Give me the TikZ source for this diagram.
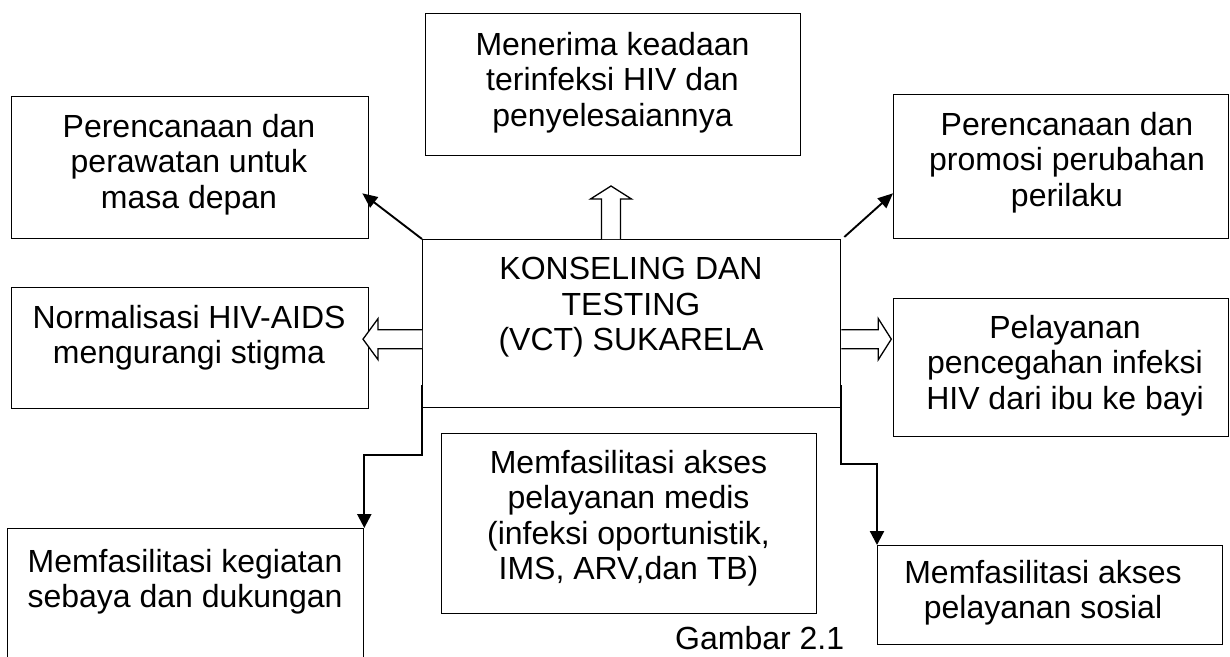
\documentclass[tikz,border=0pt]{standalone}
\usepackage{fontspec}
\setmainfont{Liberation Sans}
\usetikzlibrary{arrows.meta,calc}
\tikzset{
  box/.style={draw, line width=1.3pt, inner sep=0pt, anchor=north west},
  txt/.style={align=center, inner sep=0pt, anchor=north, font=\fontsize{32}{35.5}\selectfont},
  conn/.style={line width=1.9pt, -{Triangle[length=15pt,width=13pt]}},
  elbow/.style={line width=2.3pt, -{Triangle[length=14pt,width=14pt]}},
  hollow/.style={draw, line width=1.3pt, fill=white, line join=miter}
}
\begin{document}
\begin{tikzpicture}[x=1pt,y=-1pt]
\useasboundingbox (0,0) rectangle (1230,656);
\clip (0,0) rectangle (1230,656);
\fill[white] (0,0) rectangle (1230,656);

% boxes
\node[box, minimum width=375pt, minimum height=142pt] (top) at (425,13) {};
\node[box, minimum width=357pt, minimum height=142pt] (tl) at (11,96) {};
\node[box, minimum width=357pt, minimum height=121pt] (lm) at (11,287) {};
\node[box, minimum width=335pt, minimum height=144pt] (tr) at (893,94) {};
\node[box, minimum width=335pt, minimum height=138pt] (rm) at (893,298) {};
\node[box, minimum width=418pt, minimum height=168pt] (c) at (422,239) {};
\node[box, minimum width=375pt, minimum height=180pt] (bc) at (441,433) {};
\node[box, minimum width=356pt, minimum height=140pt] (bl) at (7,528) {};
\node[box, minimum width=345pt, minimum height=99pt] (br) at (877,545) {};

% texts
\node[txt] (ttop) at (612.5,32) {Menerima keadaan\\terinfeksi HIV dan\\penyelesaiannya};
\node[txt] (ttl) at (189,114) {Perencanaan dan\\perawatan untuk\\masa depan};
\node[txt] (tlm) at (189,305) {Normalisasi HIV-AIDS\\mengurangi stigma};
\node[txt] (ttr) at (1067,112) {Perencanaan dan\\promosi perubahan\\perilaku};
\node[txt] (trm) at (1065,315) {Pelayanan\\pencegahan infeksi\\HIV dari ibu ke bayi};
\node[txt] (tc) at (631,257) {KONSELING DAN\\TESTING\\ (VCT) SUKARELA};
\node[txt] (tbc) at (628.5,450) {Memfasilitasi akses\\pelayanan medis\\(infeksi oportunistik,\\IMS, ARV,dan TB)};
\node[txt] (tbl) at (185,549) {Memfasilitasi kegiatan\\sebaya dan dukungan};
\node[txt] (tbr) at (1043,560) {Memfasilitasi akses\\pelayanan sosial};
\node[txt, anchor=north west] (gambar) at (675,626) {Gambar 2.1};

% diagonal arrows
\draw[conn] (c.north west) -- ($(tl.south east)+(-7,-46)$);
\draw[conn] ($(c.north east)+(3,-2)$) -- ($(tr.south west)+(0,-46)$);

% hollow arrows
\coordinate (upb) at ($(c.north west)+(189,0)$);
\coordinate (lfb) at ($(c.west)+(0,15.5)$);
\coordinate (rtb) at ($(c.east)+(0,15.5)$);
\draw[hollow, shift={(upb)}] (-9.5,0) -- (-9.5,-40) -- (-20.5,-40) -- (0,-53) -- (20.5,-40) -- (9.5,-40) -- (9.5,0);
\draw[hollow, shift={(lfb)}] (0,-9.5) -- (-44,-9.5) -- (-44,-20.5) -- (-59,0) -- (-44,20.5) -- (-44,9.5) -- (0,9.5);
\draw[hollow, shift={(rtb)}] (0,-9.5) -- (37,-9.5) -- (37,-20.5) -- (50,0) -- (37,20.5) -- (37,9.5) -- (0,9.5);

% elbow connectors
\draw[elbow] ($(c.south west)+(0,-23)$) -- ($(c.south west)+(0,47)$) -| (bl.north east);
\draw[elbow] ($(c.south east)+(0,-23)$) -- ($(c.south east)+(0,56)$) -| (br.north west);
\end{tikzpicture}
\end{document}
